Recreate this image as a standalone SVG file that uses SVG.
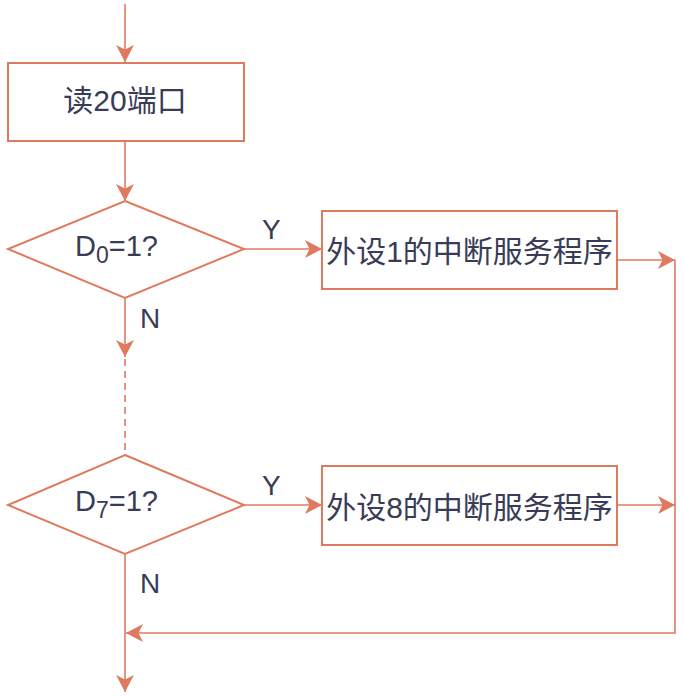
<svg xmlns="http://www.w3.org/2000/svg" width="684" height="696" viewBox="0 0 684 696">
  <defs>
    <style>
      .box { fill: #FFFFFF; stroke: #E07A5F; stroke-width: 2; }
      .line { fill: none; stroke: #E07A5F; stroke-width: 1.6; }
      .dash { stroke-dasharray: 7 5; }
      .t { font-family: "Liberation Sans", "Noto Sans CJK SC", sans-serif; fill: #393C56; }
      .big { font-size: 30px; }
      .lbl { font-size: 28px; }
    </style>
    <marker id="arr" markerUnits="userSpaceOnUse" markerWidth="18" markerHeight="18" viewBox="0 0 17 18" refX="17" refY="9" orient="auto">
      <path d="M0,0 L17,9 L0,18 L4.5,9 Z" fill="#E07A5F"/>
    </marker>
  </defs>
  <rect width="684" height="696" fill="#FFFFFF"/>

  <g id="connectors">
    <line class="line" x1="125" y1="4" x2="125" y2="62" marker-end="url(#arr)"/>
    <line class="line" x1="125" y1="141" x2="125" y2="201" marker-end="url(#arr)"/>
    <line class="line" x1="244" y1="249" x2="322" y2="249" marker-end="url(#arr)"/>
    <line class="line" x1="125" y1="298" x2="125" y2="357" marker-end="url(#arr)"/>
    <line class="line dash" x1="125" y1="359" x2="125" y2="455"/>
    <line class="line" x1="244" y1="505" x2="322" y2="505" marker-end="url(#arr)"/>
    <line class="line" x1="617" y1="260" x2="675" y2="260" marker-end="url(#arr)"/>
    <line class="line" x1="617" y1="505" x2="675" y2="505" marker-end="url(#arr)"/>
    <polyline class="line" points="675,260 675,633 126,633" marker-end="url(#arr)"/>
    <line class="line" x1="125" y1="554" x2="125" y2="692" marker-end="url(#arr)"/>
    <text class="t lbl" x="262" y="239">Y</text>
    <text class="t lbl" x="140" y="328">N</text>
    <text class="t lbl" x="262" y="495">Y</text>
    <text class="t lbl" x="140" y="593">N</text>
  </g>

  <g id="read20">
    <rect class="box" x="8" y="63" width="236" height="78"/>
    <text class="t big" x="125" y="111" text-anchor="middle">读20端口</text>
  </g>

  <g id="d0">
    <polygon class="box" points="125,201 244,249 125,298 8,249"/>
    <text class="t" x="75" y="256" font-size="29">D<tspan font-size="23" dy="7">0</tspan><tspan dy="-7">=1?</tspan></text>
  </g>

  <g id="isr1">
    <rect class="box" x="322" y="211" width="295" height="78"/>
    <text class="t big" x="469.5" y="262" text-anchor="middle">外设1的中断服务程序</text>
  </g>

  <g id="d7">
    <polygon class="box" points="125,455 244,505 125,554 8,505"/>
    <text class="t" x="75" y="511" font-size="29">D<tspan font-size="23" dy="7">7</tspan><tspan dy="-7">=1?</tspan></text>
  </g>

  <g id="isr8">
    <rect class="box" x="322" y="466" width="295" height="79"/>
    <text class="t big" x="469.5" y="518" text-anchor="middle">外设8的中断服务程序</text>
  </g>
</svg>
